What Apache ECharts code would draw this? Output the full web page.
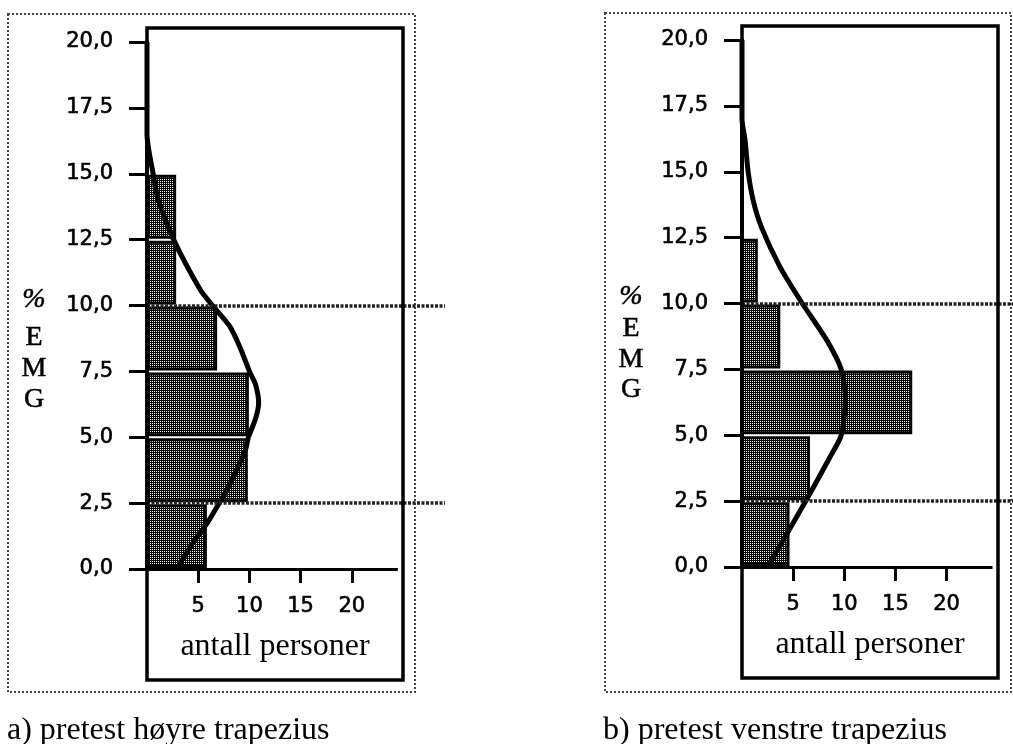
<!DOCTYPE html>
<html>
<head>
<meta charset="utf-8">
<script src="https://cdn.jsdelivr.net/npm/echarts@6.0.0/dist/echarts.min.js"></script>
<style>
html,body{margin:0;padding:0;background:#fff;}
#chart{width:1013px;height:744px;}
</style>
</head>
<body>
<div id="chart"></div>
<script>
// ---------------- data ----------------
const binLow  = [0, 2.5, 5, 7.5, 10, 12.5];
const binHigh = [2.5, 5, 7.5, 10, 12.5, 15];
// a) pretest høyre trapezius – number of persons per %EMG bin
const hoyreCounts = [5.7, 9.7, 9.8, 6.7, 2.7, 2.7];
// b) pretest venstre trapezius
const venstreCounts = [4.5, 6.5, 16.5, 3.6, 1.4, 0];

// fitted normal curves (persons, %EMG)
const hoyreCurveCount = [0, 0, 0.6, 1.1, 2.6, 5.2, 6.4, 8.1, 9.1, 10.0, 10.6, 10.9, 10.6, 9.9, 9.6, 7.8, 6.9, 5.9, 4.5, 2.9];
const hoyreCurveEmg   = [20, 16.5, 15.0, 14.0, 12.5, 10.6, 10.0, 9.2, 8.4, 7.5, 7.0, 6.3, 5.7, 5.0, 4.5, 3.0, 2.4, 1.75, 1.0, 0];
const venstreCurveCount = [0, 0, 0.3, 0.6, 1.1, 1.9, 3.7, 5.9, 8.3, 9.7, 10.1, 9.7, 8.5, 6.3, 4.0, 2.5];
const venstreCurveEmg   = [20, 17, 16.2, 15.0, 13.9, 12.9, 11.4, 10.0, 8.6, 7.5, 6.4, 5.0, 4.1, 2.55, 1.0, 0];

const refLevels = [10, 2.5];             // dotted reference lines (%EMG)
const personTicks = [5, 10, 15, 20];
const axisEnd = 24.5;                    // end of the drawn persons axis
const frameEnd = 25;                     // right edge of the inner frame (persons)
const xAxisName = 'antall personer';
const yNamePct = '%';
const yNameLetters = ['E', 'M', 'G'];
const captions = ['a) pretest høyre trapezius', 'b) pretest venstre trapezius'];

// ---------------- layout ----------------
const UNIT = 10.24;   // px per person
const PLOT_H = 527;   // px for 0..20 %EMG
const layout = [
  {gridLeft: 147, gridTop: 42, xMax: 29.1, outer: [8, 14, 415, 692], emgX: 34, pctY: 300, letterY: 338, letterStep: 31, captionX: 7},
  {gridLeft: 742, gridTop: 40, xMax: 26.5, outer: [605, 13, 1011, 692], emgX: 631, pctY: 297, letterY: 329, letterStep: 30.5, captionX: 603}
];
const SANS = 'DejaVu Sans';
const SERIF = 'Liberation Serif';

// dithered fill pattern (black + transparent)
function makePattern() {
  const c = document.createElement('canvas');
  c.width = 4; c.height = 4;
  const g = c.getContext('2d');
  g.fillStyle = '#000';
  const extra = {'1,0': 1, '3,2': 1, '3,0': 1, '1,2': 1};
  for (let y = 0; y < 4; y++) for (let x = 0; x < 4; x++) {
    if ((x + y) % 2 === 0 || extra[x + ',' + y]) g.fillRect(x, y, 1, 1);
  }
  return {image: c, repeat: 'repeat'};
}
const pattern = makePattern();

const panels = [
  {counts: hoyreCounts, cx: hoyreCurveCount, cy: hoyreCurveEmg},
  {counts: venstreCounts, cx: venstreCurveCount, cy: venstreCurveEmg}
];

const grids = [], xAxes = [], yAxes = [], series = [], graphics = [];
panels.forEach((p, i) => {
  const L = layout[i];
  grids.push({left: L.gridLeft, top: L.gridTop, width: L.xMax * UNIT, height: PLOT_H, containLabel: false});
  xAxes.push({
    type: 'value', gridIndex: i, min: 0, max: L.xMax,
    axisLine: {show: false},
    splitLine: {show: false},
    axisTick: {show: true, customValues: personTicks, length: 14, lineStyle: {color: '#000', width: 3}},
    axisLabel: {customValues: personTicks, margin: 27, color: '#000', fontFamily: SANS, fontSize: 21,
      textBorderColor: '#000', textBorderWidth: 0.6}
  });
  yAxes.push({
    type: 'value', gridIndex: i, min: 0, max: 20, interval: 2.5,
    axisLine: {show: true, lineStyle: {color: '#000', width: 4}},
    splitLine: {show: false},
    axisTick: {show: true, length: 18, lineStyle: {color: '#000', width: 3}},
    axisLabel: {margin: 34, color: '#000', fontFamily: SANS, fontSize: 21,
      textBorderColor: '#000', textBorderWidth: 0.6,
      formatter: v => v.toFixed(1).replace('.', ',')}
  });
  const mlData = refLevels.map(v => [{coord: [0, v]}, {coord: [L.xMax, v]}]);
  mlData.push([{coord: [0, 0], lineStyle: {type: 'solid', width: 3, color: '#000'}}, {coord: [axisEnd, 0]}]);
  series.push({
    type: 'line', xAxisIndex: i, yAxisIndex: i,
    data: p.cx.map((c, k) => [c, p.cy[k]]),
    smooth: 0.25, symbol: 'none', z: 2,
    lineStyle: {color: '#000', width: 5},
    silent: true, animation: false,
    markLine: {silent: true, symbol: 'none', label: {show: false}, animation: false,
      lineStyle: {type: [3, 1.5], width: 3.5, color: '#222'},
      data: mlData}
  });
  series.push({
    type: 'custom', xAxisIndex: i, yAxisIndex: i, z: 3, silent: true, animation: false,
    encode: {x: 2, y: [0, 1]},
    data: binLow.map((lo, k) => [lo, binHigh[k], p.counts[k]]),
    renderItem: (params, api) => {
      const c = api.value(2);
      if (!c) return null;
      const a = api.coord([0, api.value(0)]);
      const b = api.coord([c, api.value(1)]);
      return {type: 'rect',
        shape: {x: a[0], y: b[1] + 2.5, width: b[0] - a[0], height: a[1] - b[1] - 5},
        style: {fill: pattern, stroke: '#000', lineWidth: 3}};
    }
  });

  // decorations
  const fl = L.gridLeft, fr = L.gridLeft + frameEnd * UNIT;
  const ft = L.gridTop - 14, fb = L.gridTop + PLOT_H + 111;
  const o = L.outer;
  graphics.push({type: 'rect', shape: {x: o[0], y: o[1], width: o[2] - o[0], height: o[3] - o[1]},
    style: {fill: 'none', stroke: '#444', lineWidth: 2, lineDash: [2, 2]}, z: 0, silent: true});
  graphics.push({type: 'rect', shape: {x: fl, y: ft, width: fr - fl, height: fb - ft},
    style: {fill: 'none', stroke: '#000', lineWidth: 3.5}, z: 10, silent: true});
  graphics.push({type: 'text', x: (fl + fr) / 2, y: L.gridTop + PLOT_H + 78,
    style: {text: xAxisName, font: '32px "' + SERIF + '"', fill: '#000', align: 'center', verticalAlign: 'middle'}, z: 10});
  graphics.push({type: 'text', x: L.emgX, y: L.pctY,
    style: {text: yNamePct, font: 'italic 28px "' + SERIF + '"', fill: '#000', stroke: '#000', lineWidth: 0.5,
      align: 'center', verticalAlign: 'middle'}, z: 10});
  yNameLetters.forEach((t, k) => graphics.push({type: 'text', x: L.emgX, y: L.letterY + k * L.letterStep,
    style: {text: t, font: '28px "' + SERIF + '"', fill: '#000', stroke: '#000', lineWidth: 0.5,
      align: 'center', verticalAlign: 'middle'}, z: 10}));
  graphics.push({type: 'text', x: L.captionX, y: 731,
    style: {text: captions[i], font: '32px "' + SERIF + '"', fill: '#000', align: 'left', verticalAlign: 'middle'}, z: 10});
});

const chart = echarts.init(document.getElementById('chart'), null, {renderer: 'canvas'});
chart.setOption({
  backgroundColor: '#fff',
  animation: false,
  grid: grids, xAxis: xAxes, yAxis: yAxes, series: series,
  graphic: graphics
});
</script>
</body>
</html>
